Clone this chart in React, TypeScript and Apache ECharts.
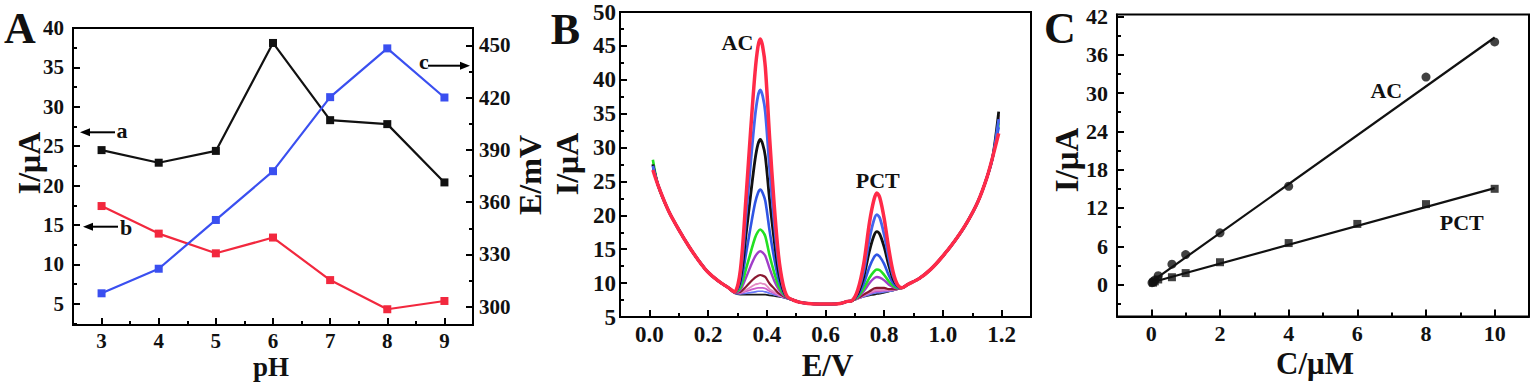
import React, { useEffect, useRef } from "react";
import * as echarts from "echarts";

// ---------- Panel A : pH dependence ----------
const PH = [3, 4, 5, 6, 7, 8, 9];
const PH_TICKS = [3, 4, 5, 6, 7, 8, 9];
const PH_MINOR = [3.5, 4.5, 5.5, 6.5, 7.5, 8.5];
const A_CURRENT_A = [24.5, 22.9, 24.4, 38.1, 28.3, 27.8, 20.4]; // curve a (I/µA)
const A_CURRENT_B = [17.4, 13.9, 11.4, 13.4, 8.0, 4.3, 5.35]; // curve b (I/µA)
const A_POTENTIAL_C = [307.7, 321.8, 349.8, 377.8, 420.3, 448.3, 420.1]; // curve c (E/mV)
const A_LEFT_TICKS = [5, 10, 15, 20, 25, 30, 35, 40];
const A_LEFT_MINOR = [2.5, 7.5, 12.5, 17.5, 22.5, 27.5, 32.5, 37.5];
const A_RIGHT_TICKS = [300, 330, 360, 390, 420, 450];
const A_RIGHT_MINOR = [315, 345, 375, 405, 435];

// ---------- Panel B : DPV curves ----------
const B_E_TICKS = [0, 0.2, 0.4, 0.6, 0.8, 1.0, 1.2];
const B_E_MINOR = [0.1, 0.3, 0.5, 0.7, 0.9, 1.1];
const E_LEFT = [0.012, 0.03, 0.066, 0.1, 0.135, 0.17, 0.2, 0.237, 0.27];
const I_LEFT = [27.5, 24.4, 20.6, 17.9, 15.4, 13.2, 11.6, 10.25, 9.3];
const E_AC = [0.29, 0.31, 0.33, 0.345, 0.36, 0.37, 0.378, 0.386, 0.395, 0.41, 0.425, 0.44, 0.455, 0.47, 0.49];
const E_MID = [0.51, 0.54, 0.58, 0.62, 0.65, 0.675];
const I_MID = [7.2, 7.0, 6.9, 6.9, 7.0, 7.3];
const E_PCT = [0.69, 0.71, 0.73, 0.75, 0.765, 0.775, 0.785, 0.8, 0.815, 0.83, 0.845, 0.86];
const E_RIGHT = [0.88, 0.92, 0.96, 1.0, 1.04, 1.08, 1.12, 1.15, 1.17, 1.19];
const I_RIGHT = [9.8, 10.7, 12.1, 14.0, 16.2, 18.8, 22.1, 25.6, 28.7, 33.5];

const B_START = [26.7, 27.3, 27.5, 27.4, 28.2, 27.6, 27.5, 27.4, 27.6, 27.3, 27.2];
const B_END = [32.1, 34.2, 35.3, 33.0, 33.6, 34.3, 34.0, 33.8, 34.5, 33.2, 34.8];

const B_AC = [
  [8.7, 11.9, 23.1, 32.5, 41.1, 44.9, 46.0, 44.9, 41.9, 31.2, 21.7, 14.1, 9.9, 8.0, 7.5],
  [8.7, 11.2, 20.2, 27.7, 34.6, 37.6, 38.5, 37.6, 35.2, 26.6, 19.0, 12.9, 9.5, 7.9, 7.5],
  [8.7, 10.5, 17.4, 23.0, 28.2, 30.5, 31.2, 30.5, 28.7, 22.1, 16.4, 11.7, 9.1, 7.9, 7.5],
  [8.7, 9.9, 14.5, 18.3, 21.8, 23.3, 23.8, 23.3, 22.1, 17.6, 13.7, 10.6, 8.8, 7.9, 7.5],
  [8.7, 9.3, 12.2, 14.5, 16.7, 17.6, 17.9, 17.6, 16.9, 14.0, 11.6, 9.6, 8.5, 7.9, 7.5],
  [8.6, 9.0, 10.9, 12.5, 13.9, 14.5, 14.7, 14.5, 14.0, 12.1, 10.4, 9.1, 8.3, 7.9, 7.5],
  [8.6, 8.7, 9.5, 10.2, 10.8, 11.1, 11.2, 11.1, 10.9, 9.9, 9.2, 8.5, 8.1, 7.8, 7.5],
  [8.6, 8.6, 9.0, 9.4, 9.8, 9.9, 10.0, 9.9, 9.8, 9.1, 8.7, 8.3, 8.0, 7.8, 7.5],
  [8.6, 8.5, 8.8, 9.0, 9.2, 9.3, 9.3, 9.3, 9.2, 8.8, 8.5, 8.2, 8.0, 7.8, 7.5],
  [8.5, 8.4, 8.5, 8.6, 8.7, 8.8, 8.8, 8.8, 8.7, 8.5, 8.3, 8.1, 7.9, 7.7, 7.4],
  [8.5, 8.3, 8.3, 8.3, 8.3, 8.3, 8.3, 8.3, 8.3, 8.2, 8.1, 8.0, 7.9, 7.7, 7.4],
];
const B_PCT = [
  [7.4, 9.0, 12.8, 19.0, 22.3, 23.3, 22.6, 19.5, 15.2, 11.7, 9.8, 9.3],
  [7.4, 8.8, 11.7, 16.6, 19.3, 20.1, 19.6, 17.1, 13.8, 11.1, 9.7, 9.3],
  [7.4, 8.5, 10.9, 14.8, 17.0, 17.6, 17.2, 15.3, 12.7, 10.6, 9.6, 9.3],
  [7.4, 8.2, 9.9, 12.4, 13.8, 14.2, 13.9, 12.8, 11.2, 10.0, 9.4, 9.3],
  [7.4, 8.0, 9.2, 10.8, 11.7, 12.0, 11.9, 11.2, 10.3, 9.6, 9.3, 9.3],
  [7.4, 7.9, 8.8, 10.0, 10.7, 10.9, 10.8, 10.4, 9.8, 9.4, 9.2, 9.3],
  [7.4, 7.8, 8.3, 8.8, 9.2, 9.3, 9.3, 9.3, 9.1, 9.1, 9.1, 9.3],
  [7.4, 7.7, 8.2, 8.6, 8.9, 9.0, 9.0, 9.0, 9.0, 9.0, 9.1, 9.3],
  [7.4, 7.7, 8.1, 8.5, 8.7, 8.8, 8.8, 8.9, 8.9, 9.0, 9.1, 9.3],
  [7.4, 7.7, 8.0, 8.3, 8.5, 8.6, 8.6, 8.7, 8.8, 8.9, 9.1, 9.3],
  [7.4, 7.7, 8.0, 8.2, 8.3, 8.4, 8.45, 8.6, 8.75, 8.9, 9.1, 9.3],
];
const B_COLORS = ["#ff2a48", "#4466ee", "#111111", "#2f55e4", "#22e022", "#a03ec8", "#8a1830", "#e48ac4", "#cc5ccc", "#6878f6", "#1a1a1a"];
const B_WIDTHS = [3.5, 2.8, 2.8, 2.6, 2.6, 2.4, 2.2, 1.8, 1.8, 1.7, 1.7];

// ---------- Panel C : calibration ----------
const C_TICKS = [0, 2, 4, 6, 8, 10];
const C_MINOR = [1, 3, 5, 7, 9];
const C_I_TICKS = [0, 6, 12, 18, 24, 30, 36, 42];
const C_I_MINOR = [-3, 3, 9, 15, 21, 27, 33, 39];
const AC_CONC = [0.02, 0.05, 0.1, 0.2, 0.6, 1, 2, 4, 8, 10];
const AC_CURRENT = [0.3, 0.4, 0.7, 1.4, 3.2, 4.7, 8.1, 15.4, 32.5, 38.0];
const PCT_CONC = [0.05, 0.1, 0.2, 0.6, 1, 2, 4, 6, 8, 10];
const PCT_CURRENT = [0.3, 0.5, 0.8, 1.15, 1.8, 3.5, 6.5, 9.5, 12.6, 15.0];
const AC_FIT_CONC = [0.02, 10];
const AC_FIT_CURRENT = [0.5, 38.7];
const PCT_FIT_CONC = [0.05, 10];
const PCT_FIT_CURRENT = [0.4, 15.1];

const FONT = "'Liberation Serif', 'Times New Roman', serif";
const BLACK = "#000";

function zip(xs: number[], ys: number[]) {
  return xs.map((x, i) => [x, ys[i]]);
}

function buildCurve(i: number) {
  const xs = [...E_LEFT, ...E_AC, ...E_MID, ...E_PCT, ...E_RIGHT];
  const ys = [B_START[i], ...I_LEFT.slice(1), ...B_AC[i], ...I_MID, ...B_PCT[i], ...I_RIGHT.slice(0, -1), B_END[i]];
  return zip(xs, ys);
}

const labelStyle = (size: number, margin: number, lineHeight?: number) => ({
  fontFamily: FONT,
  fontWeight: "bold" as const,
  fontSize: size,
  color: "#111",
  margin,
  lineHeight: lineHeight ?? size,
});

function majorAxis(o: any) {
  return {
    type: "value",
    gridIndex: o.grid,
    min: o.min,
    max: o.max,
    position: o.position,
    axisLine: { show: true, onZero: false, lineStyle: { color: BLACK, width: 2 } },
    axisTick: o.interval
      ? { show: true, inside: true, length: 7, lineStyle: { color: BLACK, width: 2 } }
      : { show: true, inside: true, length: 7, lineStyle: { color: BLACK, width: 2 }, customValues: o.ticks },
    minorTick: o.interval ? { show: true, splitNumber: 2, length: 4, lineStyle: { color: BLACK, width: 2 } } : { show: false },
    axisLabel: o.interval
      ? { ...labelStyle(o.size, o.margin, o.lineHeight), formatter: o.formatter }
      : { ...labelStyle(o.size, o.margin, o.lineHeight), customValues: o.ticks, formatter: o.formatter },
    interval: o.interval,
    splitLine: { show: false },
  };
}

function minorAxis(o: any) {
  return {
    type: "value",
    gridIndex: o.grid,
    min: o.min,
    max: o.max,
    position: o.position,
    axisLine: { show: false, onZero: false },
    axisTick: { show: true, inside: true, length: 4, lineStyle: { color: BLACK, width: 2 }, customValues: o.ticks },
    axisLabel: { show: false },
    splitLine: { show: false },
  };
}

function text(t: string, x: number, y: number, size: number, rot = 0, align = "center") {
  return {
    type: "text",
    x,
    y,
    rotation: rot,
    style: {
      text: t,
      fontFamily: FONT,
      fontWeight: "bold",
      fontSize: size,
      fill: "#111",
      align,
      verticalAlign: "middle",
    },
  };
}

function arrow(x1: number, x2: number, y: number) {
  // x2 is the tip
  const dir = x2 > x1 ? 1 : -1;
  const headLen = 10;
  const base = x2 - dir * headLen;
  return [
    { type: "line", shape: { x1, y1: y, x2: base, y2: y }, style: { stroke: BLACK, lineWidth: 2 } },
    { type: "polygon", shape: { points: [[x2, y], [base, y - 4], [base, y + 4]] }, style: { fill: BLACK } },
  ];
}

export default function App() {
  const ref = useRef<HTMLDivElement>(null);
  useEffect(() => {
    if (!ref.current) return;
    const chart = echarts.init(ref.current, undefined, { renderer: "svg" });

    const gridStyle = { show: true, borderColor: BLACK, borderWidth: 2, backgroundColor: "transparent" };

    const bSeries = B_COLORS.map((c, i) => ({
      type: "line",
      xAxisIndex: 2,
      yAxisIndex: 4,
      data: buildCurve(i),
      showSymbol: false,
      smooth: 0.3,
      lineStyle: { color: c, width: B_WIDTHS[i] },
      z: 20 - i,
    }));

    const option: any = {
      animation: false,
      backgroundColor: "#fff",
      grid: [
        { left: 73, top: 28, width: 400, height: 297, ...gridStyle },
        { left: 620, top: 12, width: 411, height: 305, ...gridStyle },
        { left: 1117, top: 14.5, width: 412, height: 302, ...gridStyle },
      ],
      xAxis: [
        majorAxis({ grid: 0, min: 2.5, max: 9.5, position: "bottom", ticks: PH_TICKS, size: 21, margin: 8, lineHeight: 15 }),
        minorAxis({ grid: 0, min: 2.5, max: 9.5, position: "bottom", ticks: PH_MINOR }),
        majorAxis({ grid: 1, min: -0.1, max: 1.3, position: "bottom", ticks: B_E_TICKS, size: 23, margin: 9, lineHeight: 16, formatter: (v: number) => v.toFixed(1) }),
        minorAxis({ grid: 1, min: -0.1, max: 1.3, position: "bottom", ticks: B_E_MINOR }),
        majorAxis({ grid: 2, min: -1, max: 11, position: "bottom", ticks: C_TICKS, size: 22, margin: 9, lineHeight: 16 }),
        minorAxis({ grid: 2, min: -1, max: 11, position: "bottom", ticks: C_MINOR }),
      ],
      yAxis: [
        majorAxis({ grid: 0, min: 2.3, max: 40, position: "left", ticks: A_LEFT_TICKS, size: 21, margin: 9 }),
        minorAxis({ grid: 0, min: 2.3, max: 40, position: "left", ticks: A_LEFT_MINOR }),
        majorAxis({ grid: 0, min: 289.5, max: 460, position: "right", ticks: A_RIGHT_TICKS, size: 21, margin: 6 }),
        minorAxis({ grid: 0, min: 289.5, max: 460, position: "right", ticks: A_RIGHT_MINOR }),
        majorAxis({ grid: 1, min: 5, max: 50, position: "left", interval: 5, size: 23, margin: 4 }),
        majorAxis({ grid: 2, min: -5, max: 42.3, position: "left", ticks: C_I_TICKS, size: 22, margin: 9 }),
        minorAxis({ grid: 2, min: -5, max: 42.3, position: "left", ticks: C_I_MINOR }),
      ],
      series: [
        {
          type: "line", name: "a", xAxisIndex: 0, yAxisIndex: 0, data: zip(PH, A_CURRENT_A),
          symbol: "rect", symbolSize: 8, lineStyle: { color: "#111", width: 2.2 }, itemStyle: { color: "#111" },
        },
        {
          type: "line", name: "b", xAxisIndex: 0, yAxisIndex: 0, data: zip(PH, A_CURRENT_B),
          symbol: "rect", symbolSize: 8, lineStyle: { color: "#f2283e", width: 2.2 }, itemStyle: { color: "#f2283e" },
        },
        {
          type: "line", name: "c", xAxisIndex: 0, yAxisIndex: 2, data: zip(PH, A_POTENTIAL_C),
          symbol: "rect", symbolSize: 8, lineStyle: { color: "#3a4ff0", width: 2.2 }, itemStyle: { color: "#3a4ff0" },
        },
        ...bSeries,
        {
          type: "line", name: "AC fit", xAxisIndex: 4, yAxisIndex: 5, data: zip(AC_FIT_CONC, AC_FIT_CURRENT),
          showSymbol: false, lineStyle: { color: "#111", width: 2.2 },
        },
        {
          type: "line", name: "PCT fit", xAxisIndex: 4, yAxisIndex: 5, data: zip(PCT_FIT_CONC, PCT_FIT_CURRENT),
          showSymbol: false, lineStyle: { color: "#111", width: 2.2 },
        },
        {
          type: "scatter", name: "AC", xAxisIndex: 4, yAxisIndex: 5, data: zip(AC_CONC, AC_CURRENT),
          symbol: "circle", symbolSize: 9, itemStyle: { color: "#111" },
        },
        {
          type: "scatter", name: "PCT", xAxisIndex: 4, yAxisIndex: 5, data: zip(PCT_CONC, PCT_CURRENT),
          symbol: "rect", symbolSize: 8, itemStyle: { color: "#111" },
        },
      ],
      graphic: [
        // panel letters
        text("A", 20, 28.5, 44),
        text("B", 565.5, 29, 44),
        text("C", 1060, 28.5, 44),
        // axis titles
        text("I/μA", 28.5, 163, 32, Math.PI / 2),
        text("E/mV", 530, 175, 32, Math.PI / 2),
        text("pH", 271, 366.5, 27),
        text("I/μA", 567, 164, 32, Math.PI / 2),
        text("E/V", 827.5, 365, 31),
        text("I/μA", 1067, 160, 33, Math.PI / 2),
        text("C/μM", 1315, 363, 31),
        // annotations
        text("a", 116.5, 130, 22, 0, "left"),
        text("b", 120, 227.6, 22, 0, "left"),
        text("c", 419, 61, 22, 0, "left"),
        ...arrow(115, 80, 132.3),
        ...arrow(118, 83, 226.7),
        ...arrow(428, 470, 65.7),
        text("AC", 737.5, 42.2, 22),
        text("PCT", 877.7, 180, 22),
        text("AC", 1386.3, 90, 22),
        text("PCT", 1461.7, 222.8, 22),
      ],
    };

    chart.setOption(option);
    return () => chart.dispose();
  }, []);

  return (
    <div
      ref={ref}
      style={{ position: "absolute", left: 0, top: 0, width: 1536, height: 387, background: "#fff" }}
    />
  );
}
